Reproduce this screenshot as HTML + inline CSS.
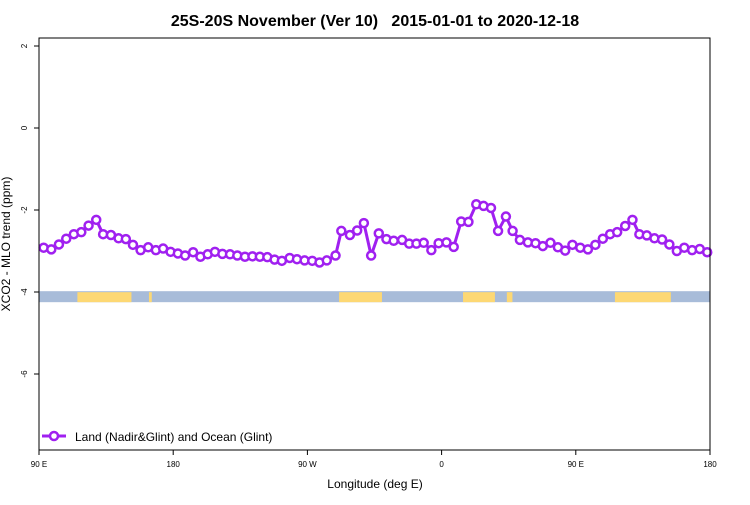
<!DOCTYPE html>
<html><head><meta charset="utf-8"><style>
body{margin:0;background:#fff;font-family:"Liberation Sans",sans-serif}
</style></head><body>
<svg width="750" height="500" xmlns="http://www.w3.org/2000/svg" font-family="Liberation Sans, sans-serif">
<text x="375" y="26" text-anchor="middle" font-size="16" font-weight="bold" style="white-space:pre" xml:space="preserve">25S-20S November (Ver 10)   2015-01-01 to 2020-12-18</text>
<g id="strip"></g>
<g id="axes"></g>
<g id="series"></g>
<rect x="39" y="38" width="671" height="412" fill="none" stroke="#000" stroke-width="1"/>
<text x="375" y="488" text-anchor="middle" font-size="12">Longitude (deg E)</text>
<text transform="translate(10,244) rotate(-90)" text-anchor="middle" font-size="12">XCO2 - MLO trend (ppm)</text>
<g>
<line x1="42" y1="436" x2="66" y2="436" stroke="#a020f0" stroke-width="3"/>
<circle cx="54" cy="436" r="4" fill="#fff" stroke="#a020f0" stroke-width="2.5"/>
<text x="75" y="441" font-size="12">Land (Nadir&amp;Glint) and Ocean (Glint)</text>
</g>
</svg>
<script>
const lons=[92.5,96.6,100.7,104.6,108.7,112.7,116.6,120.7,124.4,128.6,132.7,136.6,140.4,144.5,148.6,152.7,156.6,160.6,164.5,168.4,172.7,176.6,180.5,184.4,188.4,192.5,196.4,200.5,204.5,208.5,212.5,216.4,220.3,224.5,228.4,232.5,236.6,240.5,244.4,249.1,252.2,256.8,260.7,264.3,268.2,272.3,276.4,280.3,284.8,288.6,292.5,296.4,300.5,304.4,308.6,312.5,316.5,320.4,324.6,328.5,332.5,336.3,340.5,344.1,348.0,352.3,356.4,360.3,364.4,368.4,372.3,376.2,380.4,384.5,388.5,392.5,396.4,400.2,404.5,408.4,412.1,416.1,420.2,424.3,428.2,432.2,436.2,440.4,444.5,448.5];
const vals=[-2.92,-2.96,-2.84,-2.70,-2.59,-2.54,-2.38,-2.24,-2.59,-2.61,-2.69,-2.71,-2.85,-2.98,-2.91,-2.98,-2.94,-3.02,-3.06,-3.11,-3.03,-3.14,-3.08,-3.02,-3.07,-3.08,-3.11,-3.14,-3.13,-3.14,-3.15,-3.21,-3.24,-3.17,-3.20,-3.23,-3.24,-3.28,-3.23,-3.11,-2.51,-2.61,-2.50,-2.32,-3.11,-2.57,-2.71,-2.75,-2.73,-2.82,-2.82,-2.80,-2.98,-2.81,-2.79,-2.90,-2.28,-2.29,-1.86,-1.90,-1.95,-2.51,-2.16,-2.51,-2.73,-2.79,-2.81,-2.88,-2.80,-2.91,-2.99,-2.85,-2.92,-2.96,-2.85,-2.70,-2.59,-2.54,-2.39,-2.24,-2.59,-2.62,-2.69,-2.72,-2.84,-3.00,-2.92,-2.98,-2.95,-3.03];
const yTicks=[2,0,-2,-4,-6];
const xTickLabels=["90 E","180","90 W","0","90 E","180"];
const landStart=[110.6,149,251,317.5,341,399];
const landEnd=[139.6,150.5,274,334.6,344,429];
const NS="http://www.w3.org/2000/svg";
const X=l=>39+(l-90)*671/360;
const Y=v=>128-v*41;
function mk(t,a,p){const e=document.createElementNS(NS,t);for(const k in a)e.setAttribute(k,a[k]);p.appendChild(e);return e;}
const strip=document.getElementById('strip');
const sb=mk('rect',{x:39,y:Y(-3.98),width:671,height:11,fill:'#a8bcd9'},strip);


landStart.forEach((s,i)=>{const r=mk('rect',{x:X(s),y:Y(-3.98)+1,width:X(landEnd[i])-X(s),height:10,fill:'#fdd874'},strip);

});
const ax=document.getElementById('axes');
yTicks.forEach(v=>{mk('line',{x1:34,x2:39,y1:Y(v),y2:Y(v),stroke:'#000'},ax);
const t=mk('text',{transform:`translate(27,${Y(v)}) rotate(-90)`,'text-anchor':'middle','font-size':8},ax);t.textContent=v;

});
xTickLabels.forEach((lab,i)=>{const x=39+i*134.2;mk('line',{x1:x,x2:x,y1:450,y2:455,stroke:'#000'},ax);
const t=mk('text',{x:x,y:467,'text-anchor':'middle','font-size':8},ax);t.textContent=lab;

});
const g=document.getElementById('series');
const pl=mk('polyline',{points:lons.map((l,i)=>X(l)+','+Y(vals[i])).join(' '),fill:'none',stroke:'#a020f0','stroke-width':3},g);


lons.forEach((l,i)=>{const c=mk('circle',{cx:X(l),cy:Y(vals[i]),r:4,fill:'#fff',stroke:'#a020f0','stroke-width':2.5},g);

});
</script>
</body></html>
